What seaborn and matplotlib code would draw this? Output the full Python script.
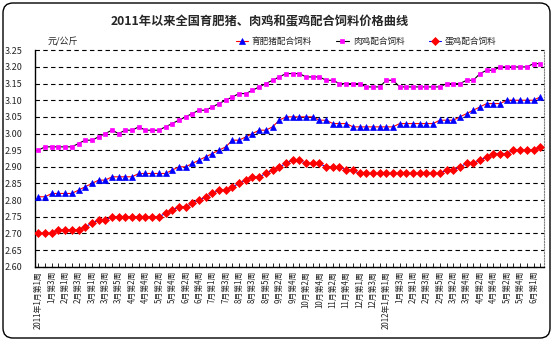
import numpy as np
import matplotlib
matplotlib.use("Agg")
import matplotlib.pyplot as plt
import seaborn as sns
from matplotlib.patches import FancyBboxPatch

# ---- data (yuan per kg, weekly) ----
title = "2011年以来全国育肥猪、肉鸡和蛋鸡配合饲料价格曲线"
unit = "元/公斤"
series_names = ["育肥猪配合饲料", "肉鸡配合饲料", "蛋鸡配合饲料"]

# labels shown on every other week
week_labels = [
    "2011年1月第1周", "1月第3周", "2月第1周", "2月第3周", "3月第1周", "3月第3周",
    "3月第5周", "4月第2周", "4月第4周", "5月第2周", "5月第4周", "6月第2周",
    "6月第4周", "7月第1周", "7月第3周", "8月第1周", "8月第3周", "8月第5周",
    "9月第2周", "9月第4周", "10月第2周", "10月第4周", "11月第2周", "11月第4周",
    "12月第1周", "12月第3周", "2012年1月第1周", "1月第3周", "2月第1周", "2月第3周",
    "2月第5周", "3月第2周", "3月第4周", "4月第2周", "4月第4周", "5月第2周",
    "5月第4周", "6月第1周",
]

pig = [
    2.81, 2.81, 2.82, 2.82, 2.82, 2.82, 2.83, 2.84, 2.85, 2.86,
    2.86, 2.87, 2.87, 2.87, 2.87, 2.88, 2.88, 2.88, 2.88, 2.88,
    2.89, 2.90, 2.90, 2.91, 2.92, 2.93, 2.94, 2.95, 2.96, 2.98,
    2.98, 2.99, 3.00, 3.01, 3.01, 3.02, 3.04, 3.05, 3.05, 3.05,
    3.05, 3.05, 3.04, 3.04, 3.03, 3.03, 3.03, 3.02, 3.02, 3.02,
    3.02, 3.02, 3.02, 3.02, 3.03, 3.03, 3.03, 3.03, 3.03, 3.03,
    3.04, 3.04, 3.04, 3.05, 3.06, 3.07, 3.08, 3.09, 3.09, 3.09,
    3.10, 3.10, 3.10, 3.10, 3.10, 3.11,
]
broiler = [
    2.95, 2.96, 2.96, 2.96, 2.96, 2.96, 2.97, 2.98, 2.98, 2.99,
    3.00, 3.01, 3.00, 3.01, 3.01, 3.02, 3.01, 3.01, 3.01, 3.02,
    3.03, 3.04, 3.05, 3.06, 3.07, 3.07, 3.08, 3.09, 3.10, 3.11,
    3.12, 3.12, 3.13, 3.14, 3.15, 3.16, 3.17, 3.18, 3.18, 3.18,
    3.17, 3.17, 3.17, 3.16, 3.16, 3.15, 3.15, 3.15, 3.15, 3.14,
    3.14, 3.14, 3.16, 3.16, 3.14, 3.14, 3.14, 3.14, 3.14, 3.14,
    3.14, 3.15, 3.15, 3.15, 3.16, 3.16, 3.18, 3.19, 3.19, 3.20,
    3.20, 3.20, 3.20, 3.20, 3.21, 3.21,
]
layer = [
    2.70, 2.70, 2.70, 2.71, 2.71, 2.71, 2.71, 2.72, 2.73, 2.74,
    2.74, 2.75, 2.75, 2.75, 2.75, 2.75, 2.75, 2.75, 2.75, 2.76,
    2.77, 2.78, 2.78, 2.79, 2.80, 2.81, 2.82, 2.83, 2.83, 2.84,
    2.85, 2.86, 2.87, 2.87, 2.88, 2.89, 2.90, 2.91, 2.92, 2.92,
    2.91, 2.91, 2.91, 2.90, 2.90, 2.90, 2.89, 2.89, 2.88, 2.88,
    2.88, 2.88, 2.88, 2.88, 2.88, 2.88, 2.88, 2.88, 2.88, 2.88,
    2.88, 2.89, 2.89, 2.90, 2.91, 2.91, 2.92, 2.93, 2.94, 2.94,
    2.94, 2.95, 2.95, 2.95, 2.95, 2.96,
]

y_ticks = [2.60, 2.65, 2.70, 2.75, 2.80, 2.85, 2.90, 2.95, 3.00, 3.05, 3.10, 3.15, 3.20, 3.25]

# ---- style ----
sns.set_style("white")
plt.rcParams["font.family"] = ["Noto Sans CJK SC", "DejaVu Sans"]
plt.rcParams["axes.unicode_minus"] = False

fig = plt.figure(figsize=(5.54, 3.41), dpi=100)
ax = fig.add_axes([0.0632, 0.2179, 0.9812 - 0.0632, 0.8525 - 0.2179])

weeks = np.arange(len(pig))
looks = [
    (pig, "#ff0000", "^", "#0000ff", 5.0),
    (broiler, "#000000", "s", "#ff00ff", 2.6),
    (layer, "#0000ff", "D", "#ff0000", 4.2),
]
for vals, line_col, mk, mk_col, ms in looks:
    sns.lineplot(x=weeks, y=vals, ax=ax, color=line_col, linewidth=0.8,
                 marker=mk, markersize=ms, markerfacecolor=mk_col,
                 markeredgecolor=mk_col, markeredgewidth=0.5,
                 legend=False, zorder=3)

ax.set_xlim(-0.5, len(pig) - 0.5)
ax.set_ylim(y_ticks[0], y_ticks[-1])
ax.set_yticks(y_ticks)
ax.set_yticklabels([f"{v:.2f}" for v in y_ticks])
ax.set_xticks(weeks)
ax.set_xticklabels([week_labels[i // 2] if i % 2 == 0 else "" for i in weeks],
                   rotation=90, fontsize=5.7, va="top")
ax.set_xlabel("")
ax.set_ylabel("")

ax.tick_params(axis="x", direction="in", length=3, width=0.6, color="black",
               bottom=True, pad=3)
ax.tick_params(axis="y", length=0, pad=9, labelsize=6.5)

ax.yaxis.grid(True, color="black", linestyle=(0, (4, 3)), linewidth=0.8)
ax.xaxis.grid(False)
for gl in ax.get_ygridlines():
    gl.set_clip_on(False)

ax.spines["top"].set_visible(False)
ax.spines["left"].set_color("black")
ax.spines["left"].set_linewidth(1.0)
ax.spines["bottom"].set_color("black")
ax.spines["bottom"].set_linewidth(1.0)
ax.spines["right"].set_color("#808080")
ax.spines["right"].set_linestyle((0, (1, 1.5)))
ax.spines["right"].set_linewidth(0.8)

# title, unit and legend
fig.text(0.469, 0.936, title, ha="center", va="center", fontsize=8.8,
         fontweight="bold")
fig.text(0.085, 0.877, unit, ha="left", va="center", fontsize=6.5,
         style="italic")
fig.legend(ax.lines[:3], series_names, loc="center",
           bbox_to_anchor=(0.661, 0.878), ncol=3, frameon=False,
           fontsize=6.2, handlelength=1.4, handletextpad=0.5,
           columnspacing=2.8, borderaxespad=0)

# rounded outer frame
fig.patches.append(FancyBboxPatch((0.03, 0.03), 5.47, 3.35,
                                  boxstyle="round,pad=0,rounding_size=0.1",
                                  transform=fig.dpi_scale_trans, fill=False,
                                  edgecolor="black", linewidth=1.0))

fig.savefig("out.png", dpi=100)
